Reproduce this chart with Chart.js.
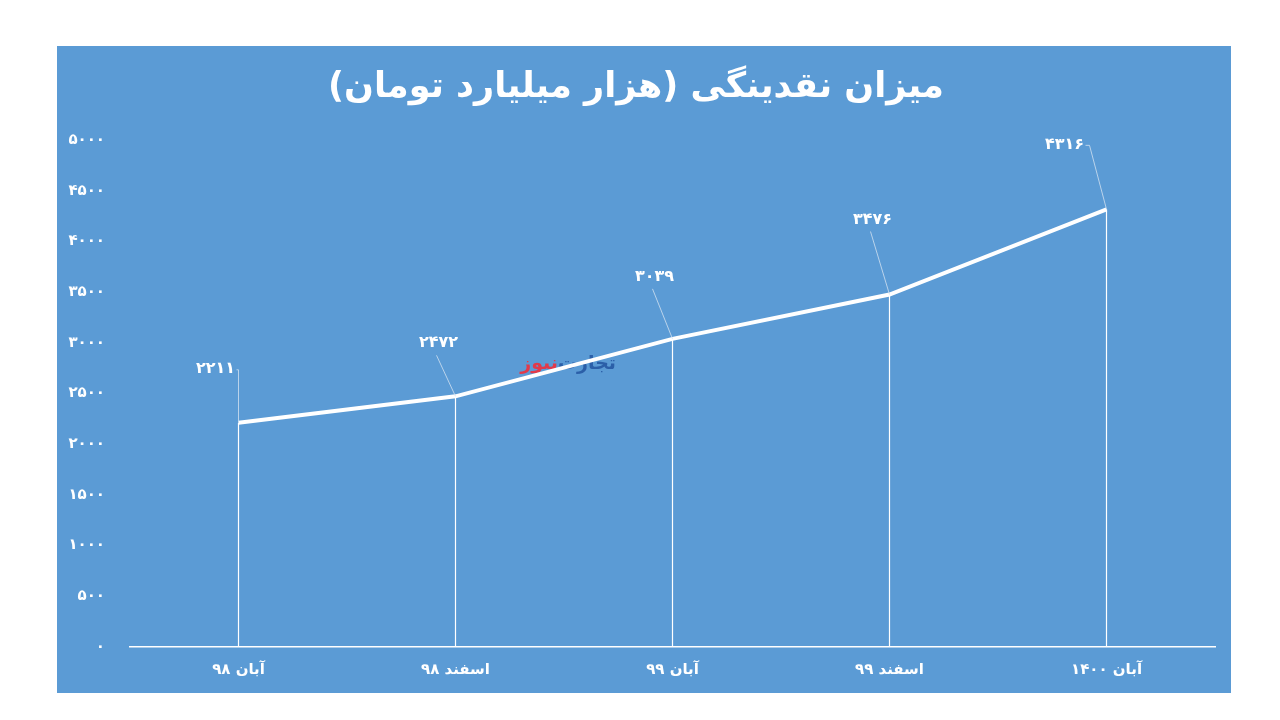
<!DOCTYPE html>
<html>
<head>
<meta charset="utf-8">
<script src="https://cdn.jsdelivr.net/npm/chart.js@4"></script>
<style>
  body { margin: 0; background: #ffffff; width: 1280px; height: 720px; overflow: hidden; }
  #box { position: absolute; left: 57px; top: 46px; width: 1174px; height: 647px; background: #5b9bd5; }
</style>
</head>
<body>
<div id="box"><canvas id="myChart" width="1174" height="647"></canvas></div>
<script>
// داده‌ها
const categories = ["آبان ۹۸", "اسفند ۹۸", "آبان ۹۹", "اسفند ۹۹", "آبان ۱۴۰۰"];
const liquidity = [2211, 2472, 3039, 3476, 4316];
const chartTitle = "میزان نقدینگی (هزار میلیارد تومان)";
const watermark = ["تجارت", "نیوز"];

const faDigits = "۰۱۲۳۴۵۶۷۸۹";
const toFa = (n) => String(n).replace(/\d/g, d => faDigits[d]);

// جای برچسب هر نقطه نسبت به خود نقطه
const labelOffsets = [
  {dx: -23, dy: -54, elbow: true},
  {dx: -17, dy: -53, elbow: false},
  {dx: -18, dy: -62, elbow: false},
  {dx: -17, dy: -75, elbow: false},
  {dx: -42, dy: -65, elbow: true}
];

const fontFa = "'DejaVu Sans', 'Noto Sans', sans-serif";

const extras = {
  id: 'extras',
  beforeDatasetsDraw(chart) {
    const c = chart.ctx;
    const pts = chart.getDatasetMeta(0).data;
    const yZero = chart.scales.y.getPixelForValue(0);
    c.save();
    // خطوط عمودی
    c.strokeStyle = '#ffffff';
    c.lineWidth = 1.2;
    pts.forEach(p => {
      c.beginPath();
      c.moveTo(p.x, p.y);
      c.lineTo(p.x, yZero);
      c.stroke();
    });
    // واترمارک
    c.font = "bold 19px " + fontFa;
    c.textBaseline = 'middle';
    c.textAlign = 'right';
    c.fillStyle = '#2b5fa8';
    c.fillText(watermark[0], 559, 318);
    const w = c.measureText(watermark[0]).width;
    c.fillStyle = '#e23a4a';
    c.fillText(watermark[1], 559 - w, 318);
    c.restore();
  },
  afterDatasetsDraw(chart) {
    const c = chart.ctx;
    const pts = chart.getDatasetMeta(0).data;
    c.save();
    c.font = "bold 16px " + fontFa;
    c.textAlign = 'center';
    c.textBaseline = 'middle';
    pts.forEach((p, i) => {
      const o = labelOffsets[i];
      const lx = p.x + o.dx, ly = p.y + o.dy;
      c.strokeStyle = 'rgba(210,225,240,0.8)';
      c.lineWidth = 1;
      c.beginPath();
      if (o.elbow) {
        c.moveTo(p.x, p.y);
        c.lineTo(p.x + (i === 4 ? -17 : 0), ly + 1);
        c.lineTo(lx + 21, ly + 1);
      } else {
        c.moveTo(p.x, p.y);
        c.lineTo(lx - 2, ly + 12);
      }
      c.stroke();
      c.fillStyle = '#ffffff';
      c.fillText(toFa(liquidity[i]), lx, ly);
    });
    c.restore();
  }
};

const ctx = document.getElementById("myChart").getContext('2d');
const myChart = new Chart(ctx, {
  type: 'line',
  data: {
    labels: categories,
    datasets: [{
      data: liquidity,
      borderColor: '#ffffff',
      borderWidth: 4,
      pointRadius: 0,
      tension: 0
    }]
  },
  options: {
    responsive: false,
    animation: false,
    layout: { padding: { left: 0, right: 16, top: 0, bottom: 0 } },
    plugins: {
      legend: { display: false },
      tooltip: { enabled: false },
      title: {
        display: true,
        text: chartTitle,
        color: '#ffffff',
        font: { family: fontFa, size: 35, weight: 'bold' },
        padding: { top: 21, bottom: 31 }
      }
    },
    scales: {
      x: {
        offset: true,
        grid: { display: false, drawTicks: false },
        border: { display: true, color: '#ffffff', width: 1.5 },
        ticks: {
          color: '#ffffff',
          padding: 14,
          font: { family: fontFa, size: 15, weight: 'bold' }
        }
      },
      y: {
        min: 0,
        max: 5000,
        afterFit: (scale) => { scale.width = 73; },
        grid: { display: false, drawTicks: false },
        border: { display: false },
        ticks: {
          stepSize: 500,
          color: '#ffffff',
          padding: 25,
          font: { family: fontFa, size: 15, weight: 'bold' },
          callback: (v) => toFa(v)
        }
      }
    }
  },
  plugins: [extras]
});
</script>
</body>
</html>
